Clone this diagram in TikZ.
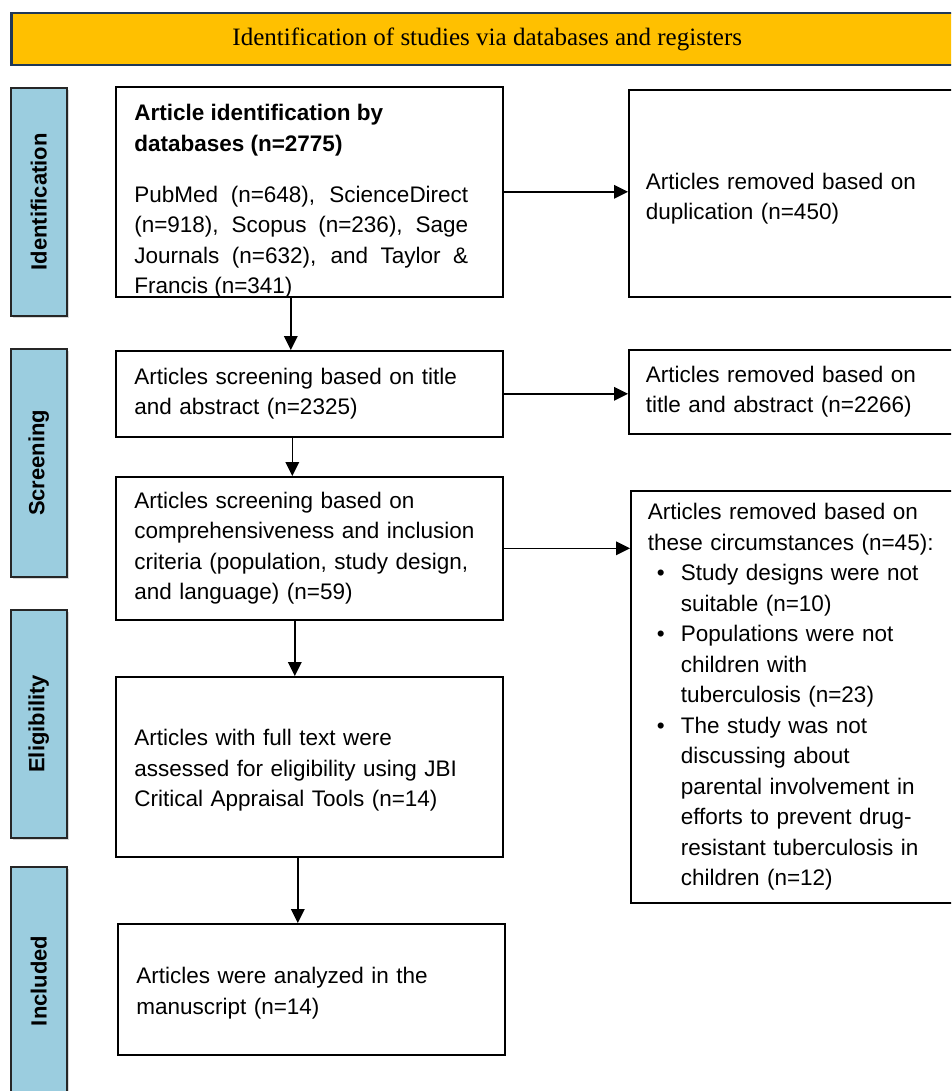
\documentclass[tikz,border=0pt]{standalone}
\usepackage{fontspec}
\setmainfont{Liberation Sans}
\newfontfamily\bannerfont{Liberation Serif}
\usetikzlibrary{arrows.meta,shadows}

\definecolor{bannergold}{RGB}{255,192,0}
\definecolor{bannerline}{RGB}{31,56,88}
\definecolor{stagefill}{RGB}{155,205,223}

\newcommand{\bul}{\makebox[33pt][l]{\hspace{9pt}\textbullet}}
\newcommand{\ind}{\hspace*{33pt}}

\tikzset{
  flowbox/.style={draw, line width=1.6pt, anchor=north west, align=left,
    text width=350pt, inner xsep=18.5pt, inner ysep=3pt,
    font=\fontsize{22.5}{30.5}\selectfont},
  sidebox/.style={flowbox, text width=366pt, inner xsep=17pt},
  stage/.style={draw=black!85, line width=1.6pt, fill=stagefill, anchor=north west,
    minimum width=56pt, minimum height=228pt, inner sep=0pt,
    drop shadow={shadow xshift=2pt, shadow yshift=-2pt, opacity=.3},
    font=\fontsize{22}{26}\selectfont\bfseries},
  arr/.style={-{Triangle[length=14pt,width=13.5pt]}, line width=1.6pt}
}

\begin{document}
\begin{tikzpicture}[x=1pt,y=-1pt]
  \useasboundingbox (0,0) rectangle (951,1091);
  \clip (0,0) rectangle (951,1091);
  % banner on top
  \node[draw=bannerline, line width=2.5pt, fill=bannergold, anchor=north west,
    minimum width=952pt, minimum height=52pt,
    font=\bannerfont\fontsize{25}{30}\selectfont] (banner) at (10,12)
    {Identification of studies via databases and registers};
  % four stages on the left
  \node[stage] (stIdent) at (10,87) {\rotatebox{90}{Identification}};
  \node[stage] (stScreen) at (10,348) {\rotatebox{90}{Screening}};
  \node[stage] (stElig) at (10,609) {\rotatebox{90}{Eligibility}};
  \node[stage] (stIncl) at (10,866) {\rotatebox{90}{Included}};
  % main column
  \node[flowbox, minimum height=210pt, align=justify] (found) at (115,86)
    {\textbf{Article identification by\\ databases (n=2775)}\par\kern20.5pt
     {\rightskip=16pt\relax PubMed (n=648), ScienceDirect\linebreak
      (n=918), Scopus (n=236), Sage\linebreak
      Journals (n=632), and Taylor \&\linebreak
      Francis (n=341)\par}\kern-19.5pt};
  \node[flowbox, minimum height=86pt] (screen1) at (115,350)
    {Articles screening based on title\\ and abstract (n=2325)};
  \node[flowbox, minimum height=143pt] (screen2) at (115,476)
    {Articles screening based on\\ comprehensiveness and inclusion\\
     criteria (population, study design,\\ and language) (n=59)};
  \node[flowbox, minimum height=180pt] (full) at (115,676)
    {Articles with full text were\\ assessed for eligibility using JBI\\
     Critical Appraisal Tools (n=14)\par\kern-7pt};
  \node[flowbox, minimum height=131pt] (incl) at (117,923)
    {Articles were analyzed in the\\ manuscript (n=14)\par\kern-7.5pt};
  % removed articles on the right
  \node[sidebox, minimum height=207pt] (dupl) at (628,89)
    {Articles removed based on\\ duplication (n=450)\par\kern-10.5pt};
  \node[sidebox, minimum height=84pt] (rem1) at (628,349)
    {Articles removed based on\\ title and abstract (n=2266)};
  \node[sidebox, minimum height=412pt] (rem2) at (630,490)
    {Articles removed based on\\ these circumstances (n=45):\\
     \bul Study designs were not\\ \ind suitable (n=10)\\
     \bul Populations were not\\ \ind children with\\ \ind tuberculosis (n=23)\\
     \bul The study was not\\ \ind discussing about\\ \ind parental involvement in\\
     \ind efforts to prevent drug-\\ \ind resistant tuberculosis in\\
     \ind children (n=12)};
  % arrows
  \draw[arr] (found.east) -- (found.east -| dupl.west);
  \draw[arr] (screen1.east) -- (screen1.east -| rem1.west);
  \draw[arr] (screen2.east) -- (screen2.east -| rem2.west);
  \draw[arr] ([xshift=-18.5pt]found.south) -- ([xshift=-18.5pt]found.south |- screen1.north);
  \draw[arr] ([xshift=-17pt]screen1.south) -- ([xshift=-17pt]screen1.south |- screen2.north);
  \draw[arr] ([xshift=-14.5pt]screen2.south) -- ([xshift=-14.5pt]screen2.south |- full.north);
  \draw[arr] ([xshift=-11.5pt]full.south) -- ([xshift=-11.5pt]full.south |- incl.north);
\end{tikzpicture}
\end{document}
